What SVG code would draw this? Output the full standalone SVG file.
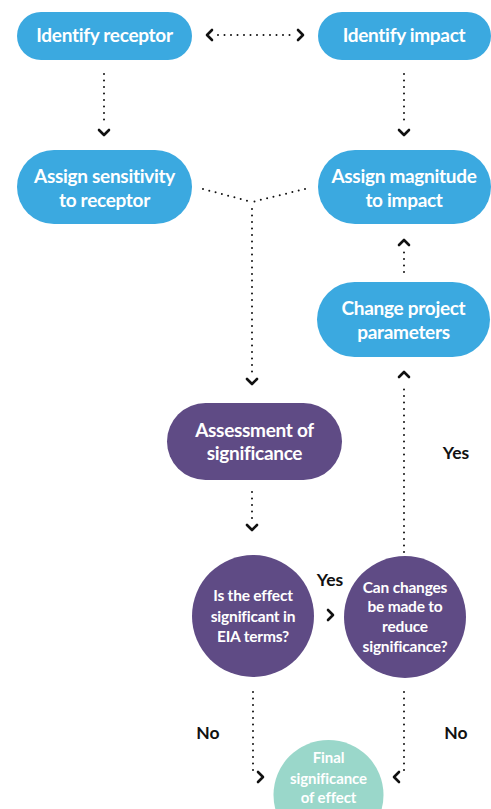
<svg xmlns="http://www.w3.org/2000/svg" width="491" height="809" viewBox="0 0 491 809">
  <style>
    .blue { fill: #3ba9e0; }
    .purple { fill: #5f4b85; }
    .teal { fill: #9ad7ca; }
    .lbl { font-family: Lato, "Liberation Sans", sans-serif; font-weight: bold; fill: #ffffff; text-anchor: middle; dominant-baseline: central; }
    .big { font-size: 19px; letter-spacing: -0.3px; }
    .small { font-size: 15.5px; letter-spacing: -0.2px; }
    .fin { font-size: 15px; letter-spacing: -0.1px; }
    .note { font-family: Lato, "Liberation Sans", sans-serif; font-weight: bold; font-size: 17.5px; fill: #111111; text-anchor: middle; dominant-baseline: central; }
    .dots { fill: none; stroke: #111111; stroke-width: 2; stroke-linecap: round; stroke-dasharray: 0 6.5; }
    .chev { fill: none; stroke: #111111; stroke-width: 2.6; stroke-linecap: round; stroke-linejoin: round; }
  </style>

  <rect width="491" height="809" fill="#ffffff"/>

  <!-- connectors -->
  <g id="connectors">
    <!-- receptor <-> impact -->
    <path class="dots" d="M218 35 H292"/>
    <path class="chev" d="M212 30 L207 35 L212 40"/>
    <path class="chev" d="M298 30 L303 35 L298 40"/>
    <!-- identify receptor -> sensitivity -->
    <path class="dots" d="M104 74 V124"/>
    <path class="chev" d="M99 130 L104 135 L109 130"/>
    <!-- identify impact -> magnitude -->
    <path class="dots" d="M404 74 V124"/>
    <path class="chev" d="M399 130 L404 135 L409 130"/>
    <!-- sensitivity + magnitude merge -> assessment -->
    <path class="dots" d="M203 189 L252 202"/>
    <path class="dots" d="M305 189 L252 202"/>
    <path class="dots" d="M252 209 V373"/>
    <path class="chev" d="M247 379 L252 384 L257 379"/>
    <!-- change parameters -> magnitude -->
    <path class="dots" d="M404 272 V250"/>
    <path class="chev" d="M399 245 L404 240 L409 245"/>
    <!-- can changes (yes) -> change parameters -->
    <path class="dots" d="M404 552 V384"/>
    <path class="chev" d="M399 377 L404 372 L409 377"/>
    <!-- assessment -> significant? -->
    <path class="dots" d="M252 492 V520"/>
    <path class="chev" d="M247 525 L252 530 L257 525"/>
    <!-- significant? (yes) -> can changes -->
    <path class="chev" d="M328 610 L333 615 L328 620"/>
    <!-- significant? (no) -> final -->
    <path class="dots" d="M253 692 V772"/>
    <path class="chev" d="M258 772 L263 777 L258 782"/>
    <!-- can changes (no) -> final -->
    <path class="dots" d="M404 692 V772"/>
    <path class="chev" d="M399 772 L394 777 L399 782"/>
  </g>

  <!-- edge labels -->
  <g id="labels">
    <text class="note" x="456" y="452">Yes</text>
    <text class="note" x="330" y="579">Yes</text>
    <text class="note" x="208" y="732">No</text>
    <text class="note" x="456" y="732">No</text>
  </g>

  <g id="identify-receptor">
    <rect class="blue" x="17" y="12" width="175" height="48" rx="24"/>
    <text class="lbl big" x="104.5" y="34">Identify receptor</text>
  </g>

  <g id="identify-impact">
    <rect class="blue" x="318" y="12" width="173" height="48" rx="24"/>
    <text class="lbl big" x="404" y="34">Identify impact</text>
  </g>

  <g id="assign-sensitivity">
    <rect class="blue" x="17" y="150" width="175" height="74" rx="37"/>
    <text class="lbl big" x="104.5" y="175">Assign sensitivity</text>
    <text class="lbl big" x="104.5" y="199">to receptor</text>
  </g>

  <g id="assign-magnitude">
    <rect class="blue" x="318" y="150" width="173" height="74" rx="37"/>
    <text class="lbl big" x="404" y="175">Assign magnitude</text>
    <text class="lbl big" x="404" y="199">to impact</text>
  </g>

  <g id="change-parameters">
    <rect class="blue" x="317" y="282" width="173" height="75" rx="37.5"/>
    <text class="lbl big" x="403.5" y="307">Change project</text>
    <text class="lbl big" x="403.5" y="331">parameters</text>
  </g>

  <g id="assessment">
    <rect class="purple" x="167" y="403" width="175" height="77" rx="38.5"/>
    <text class="lbl big" x="254.5" y="429">Assessment of</text>
    <text class="lbl big" x="254.5" y="452">significance</text>
  </g>

  <g id="is-significant">
    <circle class="purple" cx="253" cy="616" r="61"/>
    <text class="lbl small" x="253" y="595">Is the effect</text>
    <text class="lbl small" x="253" y="616">significant in</text>
    <text class="lbl small" x="253" y="636">EIA terms?</text>
  </g>

  <g id="can-reduce">
    <circle class="purple" cx="405" cy="617" r="61"/>
    <text class="lbl small" x="405" y="587">Can changes</text>
    <text class="lbl small" x="405" y="606">be made to</text>
    <text class="lbl small" x="405" y="626">reduce</text>
    <text class="lbl small" x="405" y="646">significance?</text>
  </g>

  <g id="final-significance">
    <circle class="teal" cx="328.5" cy="795" r="55"/>
    <text class="lbl fin" x="328.5" y="757">Final</text>
    <text class="lbl fin" x="328.5" y="778">significance</text>
    <text class="lbl fin" x="328.5" y="797">of effect</text>
  </g>
</svg>
